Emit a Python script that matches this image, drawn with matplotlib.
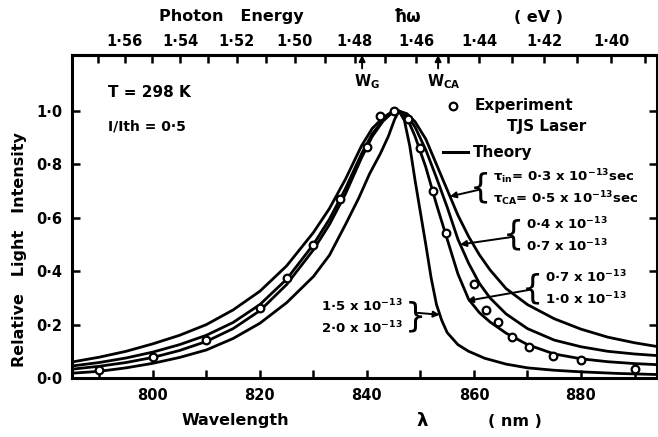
import matplotlib
matplotlib.use('Agg')
import matplotlib.pyplot as plt
from matplotlib.ticker import FixedLocator, NullFormatter

plt.rcParams['font.family'] = ['DejaVu Sans']
plt.rcParams['font.weight'] = 'bold'
plt.rcParams['mathtext.default'] = 'bf'

# experimental points (TJS laser)
exp_lam = [790, 800, 810, 820, 825, 830, 835, 840, 842.5, 845, 847.7, 850,
           852.4, 854.8, 860, 862.2, 864.5, 867.2, 870.2, 874.8, 880, 890]
exp_int = [0.03, 0.08, 0.143, 0.262, 0.375, 0.5, 0.669, 0.867, 0.98, 1.0, 0.97, 0.86,
           0.70, 0.544, 0.352, 0.253, 0.208, 0.155, 0.118, 0.083, 0.068, 0.033]

# theory: tau_in = 0.3e-13, tau_CA = 0.5e-13 s
lam_a = [784.9, 790, 795, 800, 805, 810, 815, 820, 825, 830, 833, 836, 839, 841, 843,
         844.5, 846, 847.5, 849, 851, 853, 855, 857, 859, 861, 863, 866, 870, 875,
         880, 885, 890, 894.2]
int_a = [0.060, 0.078, 0.100, 0.128, 0.160, 0.200, 0.255, 0.325, 0.420, 0.545, 0.635,
         0.745, 0.870, 0.935, 0.975, 0.995, 1.000, 0.990, 0.960, 0.895, 0.800, 0.705,
         0.610, 0.530, 0.462, 0.405, 0.335, 0.275, 0.222, 0.183, 0.153, 0.132, 0.118]

# theory: 0.4e-13 / 0.7e-13
lam_b = [784.9, 790, 795, 800, 805, 810, 815, 820, 825, 830, 833, 836, 839, 841, 843,
         844.5, 846, 847.5, 849, 851, 853, 855, 857, 859, 861, 863, 866, 870, 875,
         880, 885, 890, 894.2]
int_b = [0.045, 0.058, 0.075, 0.097, 0.125, 0.160, 0.208, 0.275, 0.370, 0.500, 0.595,
         0.710, 0.840, 0.915, 0.965, 0.992, 1.000, 0.985, 0.940, 0.855, 0.750, 0.640,
         0.520, 0.430, 0.355, 0.300, 0.240, 0.185, 0.142, 0.117, 0.100, 0.090, 0.084]

# theory: 0.7e-13 / 1.0e-13
lam_c = [784.9, 790, 795, 800, 805, 810, 815, 820, 825, 830, 833, 836, 839, 841, 843,
         844.5, 846, 847.5, 849, 851, 853, 855, 857, 859, 861, 863, 866, 870, 875,
         880, 885, 890, 894.2]
int_c = [0.033, 0.044, 0.058, 0.077, 0.103, 0.137, 0.185, 0.252, 0.350, 0.480, 0.575,
         0.690, 0.825, 0.905, 0.962, 0.990, 1.000, 0.975, 0.905, 0.790, 0.650, 0.520,
         0.390, 0.295, 0.245, 0.210, 0.168, 0.125, 0.090, 0.072, 0.061, 0.054, 0.050]

# theory: 1.5e-13 / 2.0e-13
lam_d = [784.9, 790, 795, 800, 805, 810, 815, 820, 825, 830, 833, 836, 838.5, 840.5,
         842.5, 844, 845.2, 846, 847, 848, 849, 850, 851, 852, 853, 854, 855, 857, 859,
         862, 866, 870, 875, 880, 887, 894.2]
int_d = [0.018, 0.025, 0.038, 0.055, 0.077, 0.105, 0.148, 0.205, 0.282, 0.380, 0.460,
         0.575, 0.675, 0.765, 0.840, 0.905, 0.970, 1.000, 0.965, 0.870, 0.740, 0.620,
         0.500, 0.375, 0.275, 0.215, 0.170, 0.125, 0.100, 0.074, 0.052, 0.038, 0.029,
         0.023, 0.017, 0.013]

wl_ticks = [800, 820, 840, 860, 880]
wl_minor = [790, 810, 830, 850, 870, 890]
y_ticks = [0.0, 0.2, 0.4, 0.6, 0.8, 1.0]
y_labels = ['0·0', '0·2', '0·4', '0·6', '0·8', '1·0']
ev_ticks = [1.56, 1.54, 1.52, 1.50, 1.48, 1.46, 1.44, 1.42, 1.40]
ev_labels = ['1·56', '1·54', '1·52', '1·50', '1·48', '1·46', '1·44', '1·42', '1·40']
ev_minor = [1.57, 1.55, 1.53, 1.51, 1.49, 1.47, 1.45, 1.43, 1.41, 1.39]

HC = 1239.84  # eV nm


def lam2ev(x):
    return HC / x


fig = plt.figure(figsize=(6.58, 4.37), dpi=100)
ax = fig.add_axes([72 / 658, 1 - 378 / 437, 585 / 658, 323 / 437])

for lam, inten in [(lam_a, int_a), (lam_b, int_b), (lam_c, int_c), (lam_d, int_d)]:
    ax.plot(lam, inten, color='k', lw=2.0, solid_joinstyle='round')
ax.plot(exp_lam, exp_int, 'o', ms=5.5, mfc='white', mec='k', mew=1.6, zorder=5)

ax.set_xlim(784.9, 894.2)
ax.set_ylim(0, 1.21)
ax.set_xticks(wl_ticks)
ax.xaxis.set_minor_locator(FixedLocator(wl_minor))
ax.set_yticks(y_ticks, labels=y_labels)
for s in ax.spines.values():
    s.set_linewidth(2.2)
ax.tick_params(which='both', direction='in', length=6, width=1.8, labelsize=10.5,
               top=False, right=True)
ax.tick_params(axis='x', pad=7)
ax.tick_params(axis='y', pad=7)

secax = ax.secondary_xaxis('top', functions=(lam2ev, lam2ev))
secax.set_xticks(ev_ticks, labels=ev_labels)
secax.xaxis.set_minor_locator(FixedLocator(ev_minor))
secax.xaxis.set_minor_formatter(NullFormatter())
secax.tick_params(which='both', direction='in', length=6, width=1.8, labelsize=10.5, pad=4)
secax.spines['top'].set_linewidth(2.2)

# axis titles
fig.text(20 / 658, 1 - 250 / 437, 'Relative   Light   Intensity', rotation=90,
         ha='center', va='center', fontsize=11.5)
fig.text(235 / 658, 1 - 421 / 437, 'Wavelength', ha='center', va='center', fontsize=11.5)
fig.text(422 / 658, 1 - 421 / 437, 'λ', ha='center', va='center', fontsize=13)
fig.text(515 / 658, 1 - 421 / 437, '( nm )', ha='center', va='center', fontsize=11.5)
fig.text(231 / 658, 1 - 17 / 437, 'Photon   Energy', ha='center', va='center', fontsize=11.5)
fig.text(407 / 658, 1 - 17 / 437, 'ħω', ha='center', va='center', fontsize=12)
fig.text(539 / 658, 1 - 17 / 437, '( eV )', ha='center', va='center', fontsize=11.5)

# annotations inside the plot
ax.text(791.6, 1.071, 'T = 298 K', ha='left', va='center', fontsize=11)
ax.text(791.6, 0.944, 'I/Ith = 0·5', ha='left', va='center', fontsize=10)

arr = dict(arrowstyle='-|>', lw=1.4, color='k', mutation_scale=9, shrinkA=0, shrinkB=0)
for wl, lab in [(839.1, 'W$_G$'), (853.3, 'W$_{CA}$')]:
    ax.annotate('', xy=(wl, 1.21), xytext=(wl, 1.16), arrowprops=arr, annotation_clip=False)
    ax.text(wl + 1.0, 1.109, lab, ha='center', va='center', fontsize=10.5)

ax.plot([856.1], [1.019], 'o', ms=5.5, mfc='white', mec='k', mew=1.6)
ax.text(860.2, 1.019, 'Experiment', ha='left', va='center', fontsize=11)
ax.text(866.2, 0.944, 'TJS Laser', ha='left', va='center', fontsize=11)
ax.plot([854.2, 858.9], [0.846, 0.846], color='k', lw=2.2)
ax.text(859.8, 0.846, 'Theory', ha='left', va='center', fontsize=11)

# braces with parameter values
fs = 9.5
bfs = 24
ax.text(861.3, 0.712, '{', ha='center', va='center', fontsize=bfs, fontweight='normal')
ax.text(863.6, 0.755, 'τ$_{in}$= 0·3 x 10$^{-13}$sec', ha='left', va='center', fontsize=fs)
ax.text(863.6, 0.672, 'τ$_{CA}$= 0·5 x 10$^{-13}$sec', ha='left', va='center', fontsize=fs)
ax.annotate('', xy=(855.5, 0.680), xytext=(860.9, 0.705), arrowprops=arr)

ax.text(867.4, 0.536, '{', ha='center', va='center', fontsize=bfs, fontweight='normal')
ax.text(869.7, 0.578, '0·4 x 10$^{-13}$', ha='left', va='center', fontsize=fs)
ax.text(869.7, 0.495, '0·7 x 10$^{-13}$', ha='left', va='center', fontsize=fs)
ax.annotate('', xy=(857.4, 0.500), xytext=(867.0, 0.528), arrowprops=arr)

ax.text(871.0, 0.335, '{', ha='center', va='center', fontsize=bfs, fontweight='normal')
ax.text(873.3, 0.378, '0·7 x 10$^{-13}$', ha='left', va='center', fontsize=fs)
ax.text(873.3, 0.295, '1·0 x 10$^{-13}$', ha='left', va='center', fontsize=fs)
ax.annotate('', xy=(858.7, 0.289), xytext=(870.6, 0.331), arrowprops=arr)

ax.text(849.0, 0.229, '}', ha='center', va='center', fontsize=bfs, fontweight='normal')
ax.text(846.7, 0.270, '1·5 x 10$^{-13}$', ha='right', va='center', fontsize=fs)
ax.text(846.7, 0.187, '2·0 x 10$^{-13}$', ha='right', va='center', fontsize=fs)
ax.annotate('', xy=(853.6, 0.237), xytext=(849.5, 0.244), arrowprops=arr)

fig.savefig('out.png', dpi=100)
